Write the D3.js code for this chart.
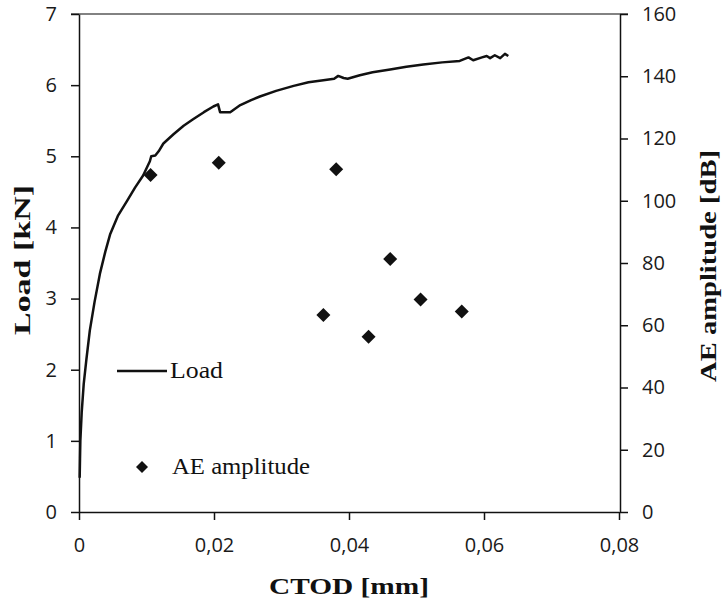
<!DOCTYPE html>
<html lang="en">
<head>
<meta charset="UTF-8">
<title>Load and AE amplitude vs CTOD</title>
<script src="https://cdn.jsdelivr.net/npm/d3@7"></script>
<style>
  body { margin: 0; background: #fff; }
  .tick text { font-family: "Open Sans", sans-serif; font-size: 20px; fill: #1a1a1a; }
  .axis path, .axis line { stroke: #111; stroke-width: 1.5px; }
  .title { font-family: "Liberation Serif", "Times New Roman", serif; font-weight: bold; font-size: 24px; fill: #111; }
  .legend { font-family: "Liberation Serif", "Times New Roman", serif; font-size: 23px; fill: #111; }
</style>
</head>
<body>
<script>
// Load curve
var ctod = [0.0001, 0.00015, 0.0002, 0.0004, 0.0007, 0.0011, 0.0016, 0.0023, 0.0031, 0.0039,
            0.0046, 0.0058, 0.0071, 0.0083, 0.0095, 0.0105, 0.0107, 0.0113, 0.0118, 0.0125,
            0.0140, 0.0155, 0.0169, 0.0185, 0.0199, 0.0206, 0.0209, 0.0224, 0.0239, 0.0255,
            0.0268, 0.0292, 0.0318, 0.0340, 0.0362, 0.0378, 0.0384, 0.0392, 0.0398, 0.0416,
            0.0435, 0.0461, 0.0485, 0.0510, 0.0538, 0.0564, 0.0577, 0.0584, 0.0597, 0.0604,
            0.0609, 0.0616, 0.0624, 0.0631, 0.0636];
var load = [0.48, 0.75, 1.0, 1.4, 1.8, 2.15, 2.55, 2.95, 3.35, 3.66,
            3.9, 4.17, 4.37, 4.56, 4.73, 4.93, 5.0, 5.01, 5.07, 5.18,
            5.31, 5.43, 5.52, 5.62, 5.70, 5.73, 5.62, 5.62, 5.72, 5.79,
            5.84, 5.92, 5.99, 6.04, 6.07, 6.09, 6.13, 6.10, 6.09, 6.14,
            6.18, 6.22, 6.26, 6.29, 6.32, 6.34, 6.39, 6.35, 6.39, 6.41,
            6.38, 6.42, 6.38, 6.44, 6.41];

// AE hits
var aeCtod = [0.0106, 0.0207, 0.0381, 0.0362, 0.0429, 0.0461, 0.0506, 0.0567];
var aeAmp  = [108.3, 112.2, 110.1, 63.3, 56.3, 81.3, 68.3, 64.4];

var xTicks = [0, 0.02, 0.04, 0.06, 0.08];
var loadTicks = [0, 1, 2, 3, 4, 5, 6, 7];
var ampTicks = [0, 20, 40, 60, 80, 100, 120, 140, 160];

var width = 723, height = 600;
var plotLeft = 79, plotRight = 619, plotTop = 14, plotBottom = 512;

var svg = d3.select("body").append("svg")
    .attr("width", width)
    .attr("height", height);

var x = d3.scaleLinear().domain([0, 0.08]).range([plotLeft, plotRight]);
var yL = d3.scaleLinear().domain([0, 7]).range([plotBottom, plotTop]);
var yR = d3.scaleLinear().domain([0, 160]).range([plotBottom, plotTop]);

var fmt = function(d) { return d === 0 ? "0" : d3.format(".2f")(d).replace(".", ","); };

// top border
svg.append("line")
    .attr("x1", plotLeft - 8).attr("x2", plotRight + 9)
    .attr("y1", plotTop).attr("y2", plotTop)
    .attr("stroke", "#595959").attr("stroke-width", 1.5);

svg.append("g")
    .attr("class", "axis")
    .attr("transform", "translate(0," + plotBottom + ")")
    .call(d3.axisBottom(x).tickValues(xTicks).tickFormat(fmt).tickSize(8).tickSizeOuter(0).tickPadding(18));

svg.append("g")
    .attr("class", "axis")
    .attr("transform", "translate(" + plotLeft + ",0)")
    .call(d3.axisLeft(yL).tickValues(loadTicks).tickFormat(d3.format("d")).tickSize(8).tickSizeOuter(0).tickPadding(14));

svg.append("g")
    .attr("class", "axis")
    .attr("transform", "translate(" + (plotRight + 1) + ",0)")
    .call(d3.axisRight(yR).tickValues(ampTicks).tickFormat(d3.format("d")).tickSize(8).tickSizeOuter(0).tickPadding(14));

// load line
var line = d3.line()
    .x(function(d, i) { return x(ctod[i]); })
    .y(function(d, i) { return yL(load[i]); });

svg.append("path")
    .datum(load)
    .attr("fill", "none")
    .attr("stroke", "#111")
    .attr("stroke-width", 2.5)
    .attr("stroke-linejoin", "round")
    .attr("d", line);

// AE points
var diamond = d3.symbol().type(d3.symbolSquare).size(98);
svg.selectAll(".ae")
    .data(aeAmp)
    .enter().append("path")
    .attr("class", "ae")
    .attr("d", diamond)
    .attr("fill", "#111")
    .attr("transform", function(d, i) {
        return "translate(" + x(aeCtod[i]) + "," + yR(d) + ") rotate(45)";
    });

// legend
svg.append("line")
    .attr("x1", 117).attr("x2", 167)
    .attr("y1", 371).attr("y2", 371)
    .attr("stroke", "#111").attr("stroke-width", 2.5);
svg.append("text").attr("class", "legend")
    .attr("x", 170).attr("y", 378)
    .attr("textLength", 53).attr("lengthAdjust", "spacingAndGlyphs")
    .text("Load");

svg.append("path")
    .attr("d", d3.symbol().type(d3.symbolSquare).size(72))
    .attr("fill", "#111")
    .attr("transform", "translate(142,467) rotate(45)");
svg.append("text").attr("class", "legend")
    .attr("x", 172).attr("y", 474)
    .attr("textLength", 138).attr("lengthAdjust", "spacingAndGlyphs")
    .text("AE amplitude");

// axis titles
svg.append("text").attr("class", "title")
    .attr("x", 349).attr("y", 594)
    .attr("text-anchor", "middle")
    .attr("textLength", 160).attr("lengthAdjust", "spacingAndGlyphs")
    .text("CTOD [mm]");

svg.append("text").attr("class", "title")
    .attr("transform", "translate(30,260) rotate(-90)")
    .attr("text-anchor", "middle")
    .attr("textLength", 150).attr("lengthAdjust", "spacingAndGlyphs")
    .text("Load [kN]");

svg.append("text").attr("class", "title")
    .attr("transform", "translate(716,266) rotate(-90)")
    .attr("text-anchor", "middle")
    .attr("textLength", 232).attr("lengthAdjust", "spacingAndGlyphs")
    .text("AE amplitude [dB]");
</script>
</body>
</html>
